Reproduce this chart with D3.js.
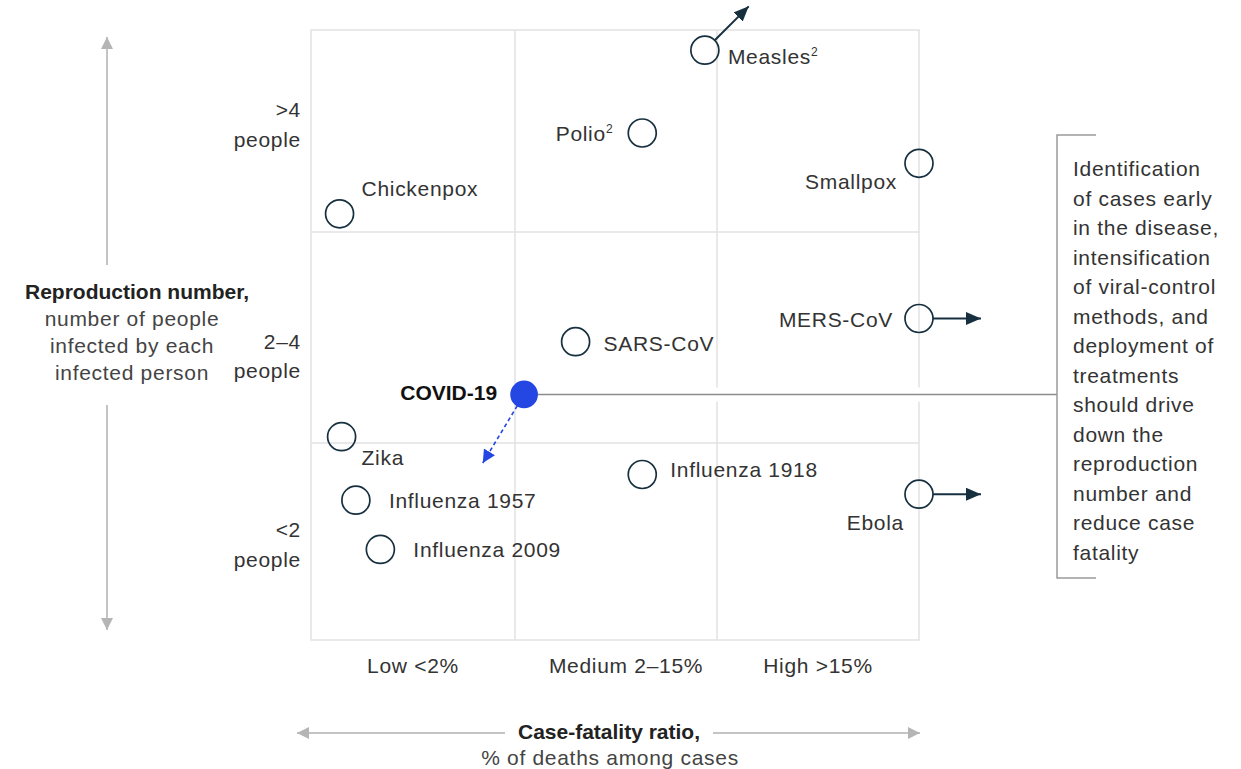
<!DOCTYPE html>
<html>
<head>
<meta charset="utf-8">
<script src="https://cdn.jsdelivr.net/npm/d3@7"></script>
<style>
  body { margin: 0; background: #fff; }
  svg { font-family: "Liberation Sans", Arial, sans-serif; }
  svg text { letter-spacing: 0.7px; }
  svg .bold { letter-spacing: 0; }
</style>
</head>
<body>
<div id="chart"></div>
<script>
'use strict';

// data (0-1 low, 1-2 medium, 2-3 high band units)
var diseases = ['Measles', 'Polio', 'Smallpox', 'Chickenpox', 'MERS-CoV', 'SARS-CoV',
  'COVID-19', 'Zika', 'Influenza 1957', 'Influenza 1918', 'Influenza 2009', 'Ebola'];
var fatality = [1.94, 1.63, 3.0, 0.14, 3.0, 1.30, 1.045, 0.15, 0.22, 1.63, 0.34, 3.0];
var reproduction = [2.90, 2.49, 2.34, 2.09, 1.59, 1.48, 1.23, 1.03, 0.71, 0.84, 0.46, 0.74];
var footnotes = ['2', '2', '', '', '', '', '', '', '', '', '', ''];
var beyondScale = ['Measles', 'MERS-CoV', 'Ebola'];

var xCategories = ['Low <2%', 'Medium 2–15%', 'High >15%'];
var xTickValues = [0.5, 1.55, 2.5];
var yCategories = [['<2', 'people'], ['2–4', 'people'], ['>4', 'people']];
var yTickValues = [0.45, 1.38, 2.5];

var annotation = ['Identification', 'of cases early', 'in the disease,', 'intensification',
  'of viral-control', 'methods, and', 'deployment of', 'treatments', 'should drive',
  'down the', 'reproduction', 'number and', 'reduce case', 'fatality'];

// label placement relative to each circle: [dx, dy, anchor]
var labelPos = {
  'Measles': [23, 14, 'start'],
  'Polio': [-29, 8, 'end'],
  'Smallpox': [-22, 26, 'end'],
  'Chickenpox': [22, -18, 'start'],
  'MERS-CoV': [-26, 8, 'end'],
  'SARS-CoV': [28, 9, 'start'],
  'COVID-19': [-27, 6, 'end'],
  'Zika': [20, 28, 'start'],
  'Influenza 1957': [33, 8, 'start'],
  'Influenza 1918': [28, 2, 'start'],
  'Influenza 2009': [33, 8, 'start'],
  'Ebola': [-15, 36, 'end']
};
// direction of the "off the scale" arrows, degrees
var arrowAngle = { 'Measles': -45, 'MERS-CoV': 0, 'Ebola': 0 };

var width = 1241, height = 769;
var navy = '#17303f', grid = '#e2e2e2', textCol = '#333';
var fs = 21;

var x = d3.scaleLinear().domain([0, 1, 2, 3]).range([311, 515, 717, 919]);
var y = d3.scaleLinear().domain([0, 1, 2, 3]).range([640, 443, 232, 30]);

var svg = d3.select('#chart').append('svg')
  .attr('width', width)
  .attr('height', height);

var defs = svg.append('defs');
function marker(id, color, len, wid) {
  defs.append('marker')
    .attr('id', id)
    .attr('markerUnits', 'userSpaceOnUse')
    .attr('viewBox', '0 0 ' + len + ' ' + wid)
    .attr('refX', len).attr('refY', wid / 2)
    .attr('markerWidth', len).attr('markerHeight', wid)
    .attr('orient', 'auto')
    .append('path')
    .attr('d', 'M0,0L' + len + ',' + (wid / 2) + 'L0,' + wid + 'Z')
    .attr('fill', color);
}
marker('headDark', navy, 15, 13);
marker('headBlue', '#2446e3', 13, 13);
marker('headGray', '#b5b5b5', 12, 12);

// grid
var g = svg.append('g').attr('stroke', grid).attr('stroke-width', 1.5).attr('fill', 'none');
g.append('rect')
  .attr('x', x(0)).attr('y', y(3))
  .attr('width', x(3) - x(0)).attr('height', y(0) - y(3));
[1, 2].forEach(function(v) {
  g.append('line').attr('x1', x(v)).attr('x2', x(v)).attr('y1', y(3)).attr('y2', y(0));
  g.append('line').attr('x1', x(0)).attr('x2', x(3)).attr('y1', y(v)).attr('y2', y(v));
});

// y axis ticks
yCategories.forEach(function(lines, i) {
  var t = svg.append('text')
    .attr('text-anchor', 'end')
    .attr('fill', textCol)
    .style('font-size', fs + 'px')
    .attr('x', x(0) - 10)
    .attr('y', y(yTickValues[i]) - 14);
  lines.forEach(function(l, j) {
    t.append('tspan').attr('x', x(0) - 10).attr('dy', j === 0 ? 0 : 29.5).text(l);
  });
});

// x axis ticks
svg.selectAll('.xtick')
  .data(xCategories)
  .enter()
  .append('text')
  .attr('class', 'xtick')
  .attr('x', function(d, i) { return x(xTickValues[i]); })
  .attr('y', 673)
  .attr('text-anchor', 'middle')
  .attr('fill', textCol)
  .style('font-size', fs + 'px')
  .text(function(d) { return d; });

// axis titles with gray arrows
var ax = svg.append('g').attr('stroke', '#c4c4c4').attr('stroke-width', 2);
ax.append('line').attr('x1', 107).attr('x2', 107).attr('y1', 265).attr('y2', 37).attr('marker-end', 'url(#headGray)');
ax.append('line').attr('x1', 107).attr('x2', 107).attr('y1', 405).attr('y2', 630).attr('marker-end', 'url(#headGray)');
ax.append('line').attr('x1', 505).attr('x2', 297).attr('y1', 733).attr('y2', 733).attr('marker-end', 'url(#headGray)');
ax.append('line').attr('x1', 713).attr('x2', 920).attr('y1', 733).attr('y2', 733).attr('marker-end', 'url(#headGray)');

var yt = svg.append('text').attr('text-anchor', 'middle').style('font-size', fs + 'px');
yt.append('tspan').attr('class', 'bold').attr('x', 137).attr('y', 299).attr('font-weight', 'bold').attr('fill', '#222').text('Reproduction number,');
['number of people', 'infected by each', 'infected person'].forEach(function(l, i) {
  yt.append('tspan').attr('x', 132).attr('y', 326 + i * 27).attr('fill', '#444').text(l);
});
var xt = svg.append('text').attr('text-anchor', 'middle').style('font-size', fs + 'px');
xt.append('tspan').attr('class', 'bold').attr('x', 609).attr('y', 739).attr('font-weight', 'bold').attr('fill', '#222').text('Case-fatality ratio,');
xt.append('tspan').attr('x', 610).attr('y', 765).attr('fill', '#444').text('% of deaths among cases');

// data rows
var data = diseases.map(function(name, i) {
  return { name: name, fx: fatality[i], ry: reproduction[i], note: footnotes[i] };
});
var covid = data.filter(function(d) { return d.name === 'COVID-19'; })[0];

// covid connector to the annotation bracket
svg.append('line')
  .attr('x1', x(covid.fx)).attr('x2', 1057)
  .attr('y1', y(covid.ry)).attr('y2', y(covid.ry))
  .attr('stroke', '#fff').attr('stroke-width', 14);
svg.append('line')
  .attr('x1', x(covid.fx)).attr('x2', 1057)
  .attr('y1', y(covid.ry)).attr('y2', y(covid.ry))
  .attr('stroke', '#8c8c8c').attr('stroke-width', 1.5);
svg.append('path')
  .attr('d', 'M1096,135H1057V578H1096')
  .attr('fill', 'none').attr('stroke', '#9a9a9a').attr('stroke-width', 1.5);

svg.append('text')
  .attr('fill', textCol)
  .style('font-size', fs + 'px')
  .selectAll('tspan')
  .data(annotation)
  .enter()
  .append('tspan')
  .attr('x', 1073)
  .attr('y', function(d, i) { return 176 + i * 29.5; })
  .text(function(d) { return d; });

// off-scale arrows
var r = 14;
data.filter(function(d) { return beyondScale.indexOf(d.name) >= 0; }).forEach(function(d) {
  var a = arrowAngle[d.name] * Math.PI / 180;
  var cx = x(d.fx), cy = y(d.ry);
  svg.append('line')
    .attr('x1', cx + r * Math.cos(a)).attr('y1', cy + r * Math.sin(a))
    .attr('x2', cx + 62 * Math.cos(a)).attr('y2', cy + 62 * Math.sin(a))
    .attr('stroke', navy).attr('stroke-width', 2)
    .attr('marker-end', 'url(#headDark)');
});

// covid dashed arrow
var ca = Math.atan2(68, -41);
svg.append('line')
  .attr('x1', x(covid.fx) + 13 * Math.cos(ca)).attr('y1', y(covid.ry) + 13 * Math.sin(ca))
  .attr('x2', x(covid.fx) + 80 * Math.cos(ca)).attr('y2', y(covid.ry) + 80 * Math.sin(ca))
  .attr('stroke', '#2446e3').attr('stroke-width', 1.6)
  .attr('stroke-dasharray', '4,3')
  .attr('marker-end', 'url(#headBlue)');

// circles
svg.selectAll('.dot')
  .data(data)
  .enter()
  .append('circle')
  .attr('class', 'dot')
  .attr('cx', function(d) { return x(d.fx); })
  .attr('cy', function(d) { return y(d.ry); })
  .attr('r', function(d) { return d.name === 'COVID-19' ? 13 : r; })
  .attr('fill', function(d) { return d.name === 'COVID-19' ? '#2446e3' : 'none'; })
  .attr('stroke', function(d) { return d.name === 'COVID-19' ? '#2446e3' : navy; })
  .attr('stroke-width', 1.7);

// labels
var labels = svg.selectAll('.label')
  .data(data)
  .enter()
  .append('text')
  .attr('class', function(d) { return d.name === 'COVID-19' ? 'label bold' : 'label'; })
  .attr('x', function(d) { return x(d.fx) + labelPos[d.name][0]; })
  .attr('y', function(d) { return y(d.ry) + labelPos[d.name][1]; })
  .attr('text-anchor', function(d) { return labelPos[d.name][2]; })
  .attr('fill', function(d) { return d.name === 'COVID-19' ? '#111' : textCol; })
  .attr('font-weight', function(d) { return d.name === 'COVID-19' ? 'bold' : 'normal'; })
  .style('font-size', fs + 'px');
labels.append('tspan').text(function(d) { return d.name; });
labels.append('tspan')
  .attr('dy', -8)
  .style('font-size', '12px')
  .text(function(d) { return d.note; });
</script>
</body>
</html>
